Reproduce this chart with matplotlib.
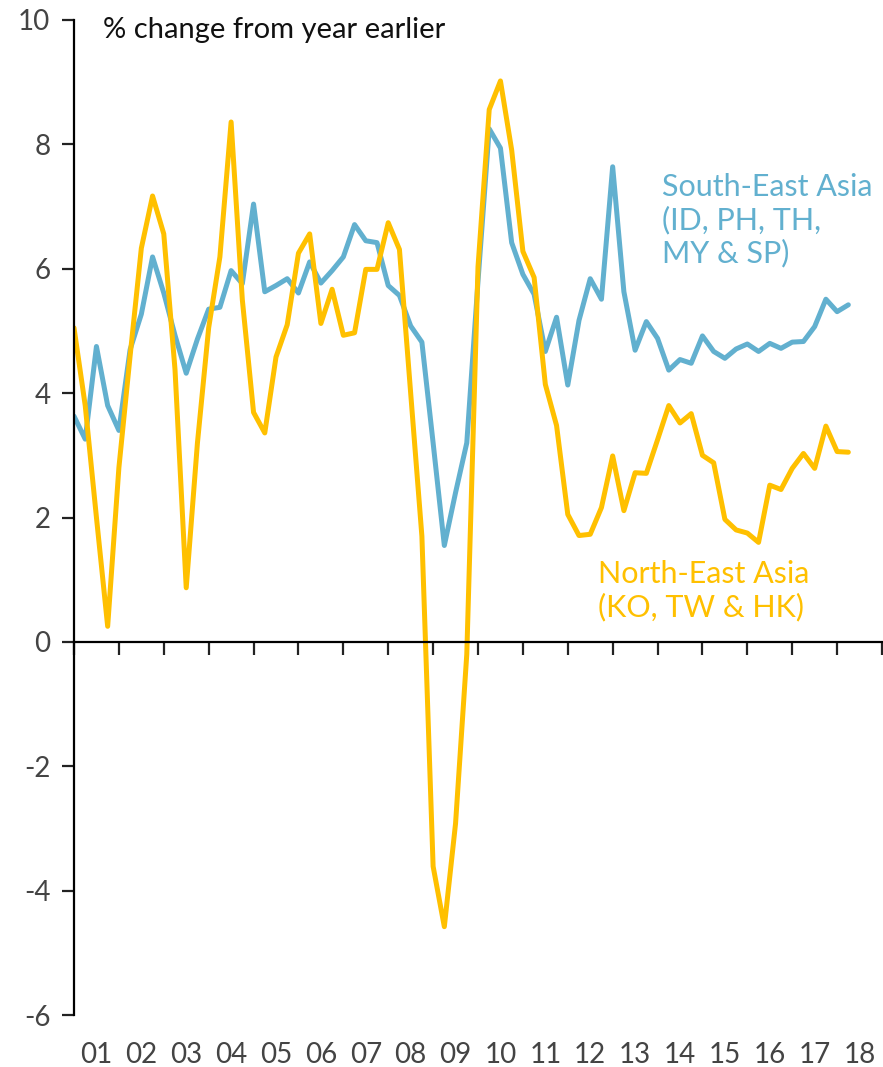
import numpy as np
import matplotlib
matplotlib.use('Agg')
import matplotlib.pyplot as plt
import matplotlib.transforms as mtransforms

plt.rcParams['font.family'] = ['Lato', 'DejaVu Sans']
plt.rcParams['axes.unicode_minus'] = False

# quarterly, % y/y, starting 2001 Q1
south_east = [3.63, 3.26, 4.75, 3.80, 3.40, 4.70, 5.27, 6.19, 5.61, 4.93,
              4.32, 4.87, 5.35, 5.38, 5.97, 5.76, 7.04, 5.63, 5.73, 5.84,
              5.61, 6.11, 5.77, 5.97, 6.19, 6.71, 6.45, 6.42, 5.73, 5.57,
              5.08, 4.82, 3.20, 1.55, 2.40, 3.20, 5.80, 8.25, 7.94, 6.42,
              5.91, 5.59, 4.67, 5.22, 4.13, 5.17, 5.84, 5.51, 7.64, 5.63,
              4.69, 5.15, 4.88, 4.37, 4.54, 4.48, 4.92, 4.67, 4.56, 4.71,
              4.79, 4.67, 4.80, 4.72, 4.82, 4.83, 5.07, 5.51, 5.31, 5.42]
north_east = [5.05, 3.80, 2.00, 0.25, 2.80, 4.60, 6.33, 7.17, 6.56, 4.38,
              0.87, 3.20, 5.05, 6.19, 8.36, 5.50, 3.69, 3.36, 4.58, 5.10,
              6.25, 6.56, 5.12, 5.67, 4.93, 4.97, 5.99, 5.99, 6.74, 6.31,
              4.00, 1.70, -3.61, -4.58, -2.92, -0.20, 6.03, 8.56, 9.02, 7.91,
              6.28, 5.86, 4.14, 3.48, 2.05, 1.71, 1.73, 2.16, 2.99, 2.11,
              2.72, 2.71, 3.25, 3.80, 3.52, 3.67, 3.00, 2.88, 1.97, 1.80,
              1.75, 1.60, 2.52, 2.45, 2.79, 3.03, 2.79, 3.47, 3.06, 3.05]
years = list(range(2001, 2019))
year_labels = ['%02d' % (y % 100) for y in years]

blue = '#62B0CF'
gold = '#FFC000'
grey = '#444444'

x = 2001 + np.arange(len(south_east)) / 4.0

fig = plt.figure(figsize=(8.83, 10.67), dpi=100)
ax = fig.add_axes([74 / 883, 52 / 1067, 808 / 883, 995 / 1067])

ax.plot(x, south_east, color=blue, lw=3.6, solid_joinstyle='round', solid_capstyle='round')
ax.plot(x, north_east, color=gold, lw=3.6, solid_joinstyle='round', solid_capstyle='round')

ax.set_xlim(2001, 2019)
ax.set_ylim(-6, 10)

for s in ['top', 'right']:
    ax.spines[s].set_visible(False)
ax.spines['bottom'].set_position(('data', 0))
ax.spines['left'].set_linewidth(1.6)
ax.spines['bottom'].set_linewidth(1.6)

ax.set_xticks(range(2001, 2020))
ax.set_xticklabels([])
ax.tick_params(axis='x', direction='out', length=9, width=1.6, color='#222222')
ax.set_yticks(range(-6, 11, 2))
ax.tick_params(axis='y', direction='out', length=9, width=1.6, color='#222222',
               labelsize=20, labelcolor=grey, pad=8)

# year labels along the bottom of the chart
trans = mtransforms.blended_transform_factory(ax.transData, ax.transAxes)
for y, lab in zip(years, year_labels):
    ax.text(y + 0.5, -0.04, lab, transform=trans, ha='center', va='center',
            fontsize=20, color=grey)

ax.text(0.036, 0.99, '% change from year earlier', transform=ax.transAxes,
        ha='left', va='center', fontsize=21, color='#111111')

ax.text(2014.1, 7.54, 'South-East Asia\n(ID, PH, TH,\nMY & SP)', color=blue,
        fontsize=22, ha='left', va='top', linespacing=1.2)
ax.text(2012.67, 1.32, 'North-East Asia\n(KO, TW & HK)', color=gold,
        fontsize=22, ha='left', va='top', linespacing=1.2)

fig.savefig('out.png', dpi=100, facecolor='white')
